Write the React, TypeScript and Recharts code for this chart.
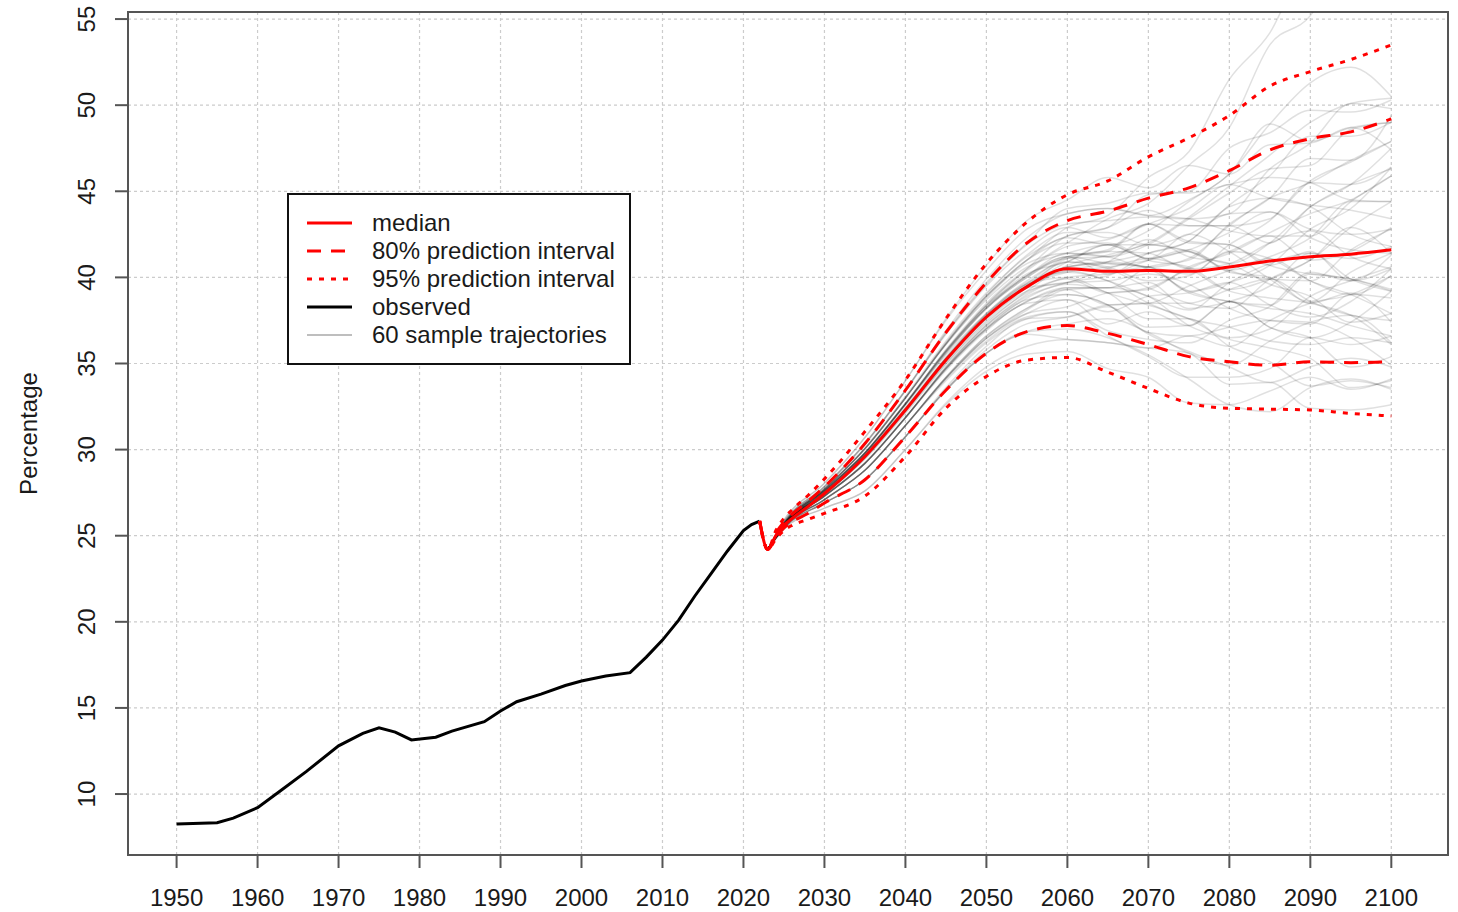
import { LineChart, Line, XAxis, YAxis, CartesianGrid, Legend, ReferenceArea } from 'recharts'

// observed series
const obsYears = [1950, 1955, 1957, 1960, 1963, 1966, 1970, 1973, 1975, 1977, 1979, 1982, 1984, 1988, 1990, 1992, 1995, 1998, 2000, 2003, 2006, 2008, 2010, 2012, 2014, 2016, 2018, 2020, 2021, 2022]
const obsValues = [8.26, 8.33, 8.6, 9.21, 10.25, 11.3, 12.8, 13.52, 13.85, 13.6, 13.14, 13.3, 13.65, 14.2, 14.82, 15.36, 15.8, 16.3, 16.56, 16.85, 17.05, 17.95, 18.94, 20.1, 21.5, 22.8, 24.1, 25.3, 25.65, 25.85]

// projection: median and prediction intervals
const projYears = [2022, 2023, 2024, 2025, 2026, 2028, 2030, 2035, 2040, 2045, 2050, 2055, 2060, 2065, 2070, 2075, 2080, 2085, 2090, 2095, 2100]
const median = [25.85, 24.2, 25.0, 25.6, 26.0, 26.7, 27.45, 29.6, 32.3, 35.2, 37.7, 39.45, 40.5, 40.35, 40.4, 40.35, 40.6, 40.95, 41.2, 41.35, 41.6]
const lower80 = [25.85, 24.2, 24.9, 25.45, 25.8, 26.3, 26.9, 28.25, 30.75, 33.45, 35.6, 36.85, 37.2, 36.75, 36.1, 35.4, 35.1, 34.9, 35.1, 35.05, 35.1]
const upper80 = [25.85, 24.2, 25.15, 25.8, 26.25, 27.0, 27.85, 30.35, 33.45, 36.8, 39.7, 42.0, 43.3, 43.85, 44.6, 45.2, 46.2, 47.4, 48.05, 48.45, 49.2]
const lower95 = [25.85, 24.2, 24.8, 25.3, 25.6, 25.95, 26.3, 27.3, 29.6, 32.4, 34.25, 35.2, 35.35, 34.5, 33.55, 32.7, 32.4, 32.35, 32.3, 32.1, 31.95]
const upper95 = [25.85, 24.2, 25.3, 26.0, 26.5, 27.35, 28.3, 31.05, 34.05, 37.6, 40.8, 43.2, 44.8, 45.6, 47.0, 48.1, 49.4, 51.1, 51.95, 52.65, 53.5]

// 60 sample trajectories, all start from the first projected year
const trajStartYear = 2023
const trajStartValue = 24.2
const trajYears = [2025, 2030, 2035, 2040, 2045, 2050, 2055, 2060, 2065, 2070, 2075, 2080, 2085, 2090, 2095, 2100]
const sampleTrajectories: number[][] = [
  [25.6, 27.45, 29.6, 32.3, 35.2, 37.7, 39.45, 40.7, 41.3, 42.0, 43.5, 45.3, 47.1, 49.0, 50.1, 50.4],
  [25.66, 27.6, 29.8, 32.65, 35.6, 38.2, 40.0, 41.2, 40.8, 40.6, 39.1, 38.6, 38.2, 37.9, 37.2, 36.6],
  [25.55, 27.3, 29.2, 31.85, 34.7, 37.05, 38.7, 39.0, 38.4, 36.7, 35.7, 34.8, 33.9, 34.8, 35.3, 34.8],
  [25.66, 27.6, 29.8, 32.65, 35.8, 38.5, 40.5, 42.0, 43.4, 44.3, 46.5, 48.7, 53.5, 55.2, 59.5, 61.2],
  [25.72, 27.7, 30.05, 33.0, 36.15, 38.9, 41.0, 42.9, 43.6, 45.8, 47.3, 51.5, 54.2, 58.8, 60.1, 61.0],
  [25.5, 27.1, 28.8, 31.4, 34.15, 36.45, 37.9, 38.3, 39.1, 39.3, 40.6, 41.4, 42.6, 43.7, 44.5, 45.9],
  [25.62, 27.5, 29.7, 32.4, 35.3, 37.8, 39.6, 40.0, 39.1, 38.4, 37.6, 36.5, 37.0, 38.9, 39.8, 40.6],
  [25.66, 27.6, 29.8, 32.7, 35.7, 38.4, 40.4, 41.8, 42.2, 43.1, 44.0, 45.4, 44.6, 44.2, 43.9, 43.4],
  [25.45, 26.9, 28.25, 30.75, 33.45, 35.6, 36.85, 37.0, 36.5, 35.5, 34.1, 32.6, 32.2, 33.6, 34.1, 33.5],
  [25.8, 27.85, 30.35, 33.45, 36.8, 39.7, 42.0, 44.0, 44.3, 44.9, 44.9, 45.4, 45.8, 45.5, 44.5, 44.4],
  [25.58, 27.4, 29.5, 32.2, 35.1, 37.6, 39.4, 40.9, 40.6, 39.8, 40.1, 41.9, 43.3, 45.6, 46.7, 47.9],
  [25.55, 27.3, 29.2, 31.85, 34.8, 37.2, 38.9, 39.7, 40.1, 41.0, 41.6, 40.3, 40.0, 38.5, 39.1, 37.4],
  [25.72, 27.7, 30.05, 33.0, 36.15, 38.9, 41.0, 42.0, 42.0, 41.0, 40.6, 39.2, 38.8, 38.5, 37.8, 36.1],
  [25.5, 27.1, 28.8, 31.4, 34.0, 36.2, 37.6, 38.0, 36.9, 36.4, 36.2, 37.5, 38.3, 40.3, 39.8, 41.3],
  [25.6, 27.5, 29.65, 32.25, 35.15, 37.65, 39.5, 40.3, 40.6, 41.0, 41.6, 42.6, 43.8, 42.8, 42.5, 42.8],
  [25.9, 28.05, 30.7, 34.0, 37.6, 40.7, 43.3, 44.5, 45.8, 45.2, 46.5, 46.0, 47.7, 47.8, 48.7, 47.4],
  [25.38, 26.6, 27.6, 30.0, 32.6, 34.55, 35.55, 35.7, 34.7, 34.2, 32.7, 32.6, 33.4, 34.2, 33.5, 34.1],
  [25.64, 27.55, 29.75, 32.6, 35.6, 38.2, 40.0, 41.2, 41.5, 43.1, 42.0, 41.9, 40.7, 41.5, 39.8, 40.5],
  [25.56, 27.3, 29.25, 31.9, 34.7, 37.0, 38.6, 39.4, 39.4, 40.6, 41.0, 43.1, 44.6, 46.9, 46.8, 49.4],
  [25.6, 27.45, 29.55, 32.35, 35.25, 37.75, 39.5, 40.9, 41.9, 41.9, 41.5, 40.4, 39.9, 39.8, 41.6, 42.8],
  [25.72, 27.7, 30.1, 33.1, 36.3, 39.1, 41.2, 42.4, 42.9, 44.8, 45.0, 47.5, 48.4, 49.7, 49.6, 50.3],
  [25.5, 27.1, 28.8, 31.4, 34.15, 36.45, 37.9, 38.7, 37.3, 38.0, 37.2, 38.6, 37.1, 36.5, 34.8, 35.4],
  [25.6, 27.4, 29.5, 32.2, 35.0, 37.5, 39.2, 39.7, 39.8, 40.2, 39.6, 38.2, 37.5, 37.3, 39.0, 38.8],
  [25.66, 27.65, 29.85, 32.7, 35.75, 38.35, 40.1, 41.4, 41.2, 40.6, 41.1, 43.0, 44.6, 45.5, 46.8, 47.9],
  [25.45, 26.9, 28.25, 30.75, 33.45, 35.6, 36.7, 36.4, 36.2, 35.9, 36.6, 36.0, 37.5, 38.5, 39.0, 40.1],
  [25.8, 27.85, 30.35, 33.45, 36.7, 39.5, 41.6, 42.9, 42.3, 43.1, 42.1, 41.9, 40.7, 40.2, 39.9, 39.2],
  [25.61, 27.47, 29.62, 32.32, 35.25, 37.72, 39.5, 40.6, 40.9, 41.4, 42.1, 44.2, 45.9, 48.2, 48.2, 49.0],
  [25.55, 27.3, 29.2, 31.85, 34.7, 37.05, 38.8, 39.6, 39.1, 37.6, 37.6, 36.0, 35.1, 33.7, 34.0, 33.6],
  [25.72, 27.7, 30.05, 33.0, 36.1, 38.7, 40.6, 41.4, 41.9, 41.1, 41.5, 40.4, 41.2, 42.3, 44.4, 44.4],
  [25.5, 27.1, 28.8, 31.4, 34.2, 36.6, 38.2, 39.4, 39.4, 39.7, 38.2, 38.6, 39.5, 41.4, 41.1, 41.8],
  [25.62, 27.5, 29.7, 32.45, 35.35, 37.9, 39.8, 40.9, 40.5, 39.4, 38.5, 38.2, 39.9, 41.0, 42.9, 44.4],
  [25.66, 27.6, 29.8, 32.6, 35.5, 37.9, 39.7, 40.3, 39.8, 38.5, 37.6, 37.1, 36.3, 36.1, 36.5, 36.2],
  [25.55, 27.3, 29.2, 31.85, 34.75, 37.2, 39.0, 40.0, 40.2, 40.6, 39.2, 39.7, 40.7, 42.8, 44.0, 46.4],
  [25.78, 27.8, 30.3, 33.4, 36.75, 39.6, 41.9, 43.1, 43.3, 43.5, 43.4, 43.7, 46.3, 47.8, 50.1, 49.8],
  [25.45, 26.9, 28.25, 30.75, 33.5, 35.8, 37.3, 37.7, 38.4, 38.5, 38.5, 39.3, 39.9, 38.6, 37.8, 37.5],
  [25.59, 27.43, 29.57, 32.27, 35.15, 37.65, 39.4, 40.4, 39.8, 38.9, 38.1, 39.7, 40.8, 41.4, 39.9, 39.2],
  [25.72, 27.7, 30.05, 33.0, 36.2, 39.0, 41.3, 42.6, 42.6, 41.9, 42.5, 43.7, 43.8, 42.3, 41.6, 41.4],
  [25.5, 27.1, 28.8, 31.4, 34.1, 36.3, 37.7, 38.0, 36.6, 35.4, 34.2, 34.2, 34.7, 36.5, 36.1, 36.6],
  [25.66, 27.6, 29.8, 32.65, 35.7, 38.25, 40.1, 41.2, 40.2, 41.4, 42.1, 44.1, 44.6, 44.1, 42.5, 41.8],
  [25.55, 27.3, 29.2, 31.85, 34.6, 36.9, 38.5, 38.7, 38.0, 38.9, 39.1, 39.7, 38.4, 37.7, 38.6, 40.5],
  [25.6, 27.45, 29.6, 32.3, 35.3, 37.85, 39.65, 41.2, 41.6, 43.1, 43.0, 43.0, 42.0, 44.1, 45.4, 46.3],
  [25.9, 28.05, 30.7, 34.0, 37.5, 40.4, 42.8, 43.7, 44.0, 43.6, 44.5, 46.0, 48.9, 47.9, 48.7, 49.0],
  [25.38, 26.6, 27.6, 30.0, 32.7, 34.8, 36.0, 36.4, 36.2, 35.9, 35.6, 33.8, 33.9, 32.4, 32.3, 32.6],
  [25.6, 27.44, 29.63, 32.35, 35.22, 37.68, 39.4, 39.7, 40.5, 41.1, 40.5, 39.3, 39.9, 41.0, 42.9, 41.4],
  [25.66, 27.6, 29.8, 32.65, 35.75, 38.4, 40.5, 42.4, 42.9, 43.9, 43.0, 43.0, 43.4, 45.5, 45.4, 46.4],
  [25.55, 27.3, 29.2, 31.85, 34.8, 37.3, 39.2, 40.6, 40.9, 40.5, 39.2, 38.6, 38.4, 40.2, 39.9, 39.3],
  [25.72, 27.7, 30.05, 33.0, 36.1, 38.8, 40.8, 41.4, 41.2, 41.9, 43.4, 44.9, 46.3, 46.5, 48.6, 49.0],
  [25.5, 27.1, 28.8, 31.4, 34.2, 36.6, 38.2, 39.0, 38.4, 36.8, 36.6, 37.1, 37.5, 37.4, 36.5, 34.9],
  [25.6, 27.46, 29.58, 32.28, 35.18, 37.7, 39.5, 40.6, 40.8, 40.6, 40.2, 41.5, 41.1, 39.8, 39.0, 40.1],
  [25.8, 27.85, 30.35, 33.45, 36.9, 39.9, 42.3, 43.7, 44.0, 43.6, 43.4, 42.7, 42.4, 42.4, 44.4, 45.9],
  [25.45, 26.9, 28.25, 30.75, 33.45, 35.6, 36.85, 37.3, 37.6, 36.8, 35.6, 34.9, 36.3, 37.4, 37.8, 36.2],
  [25.66, 27.6, 29.8, 32.65, 35.65, 38.2, 40.1, 41.1, 41.2, 41.9, 41.5, 40.8, 42.0, 44.1, 45.4, 47.5],
  [25.55, 27.3, 29.2, 31.85, 34.7, 37.0, 38.6, 39.3, 38.4, 38.5, 39.5, 40.4, 41.1, 39.8, 39.0, 37.9],
  [25.6, 27.45, 29.58, 32.25, 35.15, 37.7, 39.5, 41.1, 41.5, 41.4, 40.5, 40.8, 42.0, 42.7, 41.2, 40.5],
  [25.72, 27.7, 30.05, 33.0, 36.15, 38.9, 41.0, 42.3, 41.9, 42.7, 44.4, 46.0, 48.9, 51.3, 52.2, 50.5],
  [25.5, 27.1, 28.8, 31.4, 34.15, 36.5, 38.1, 39.3, 39.4, 38.9, 37.2, 36.4, 35.9, 35.3, 33.6, 34.0],
  [25.58, 27.38, 29.45, 32.1, 34.95, 37.4, 39.1, 39.9, 39.1, 39.4, 40.5, 41.5, 42.4, 41.0, 41.5, 42.9],
  [25.66, 27.6, 29.8, 32.65, 35.7, 38.3, 40.2, 40.9, 41.9, 41.1, 42.5, 41.5, 39.9, 38.6, 40.3, 41.4],
  [25.45, 26.9, 28.25, 30.75, 33.6, 36.0, 37.6, 37.7, 38.3, 37.1, 37.2, 38.6, 37.1, 36.5, 37.4, 39.2],
  [25.6, 27.48, 29.66, 32.38, 35.3, 37.8, 39.6, 40.4, 40.9, 42.2, 41.2, 40.8, 39.6, 38.9, 37.4, 37.9],
]

const xDomain = [1944, 2107]
const yDomain = [6.46, 55.41]
const xTicks = [1950, 1960, 1970, 1980, 1990, 2000, 2010, 2020, 2030, 2040, 2050, 2060, 2070, 2080, 2090, 2100]
const yTicks = [10, 15, 20, 25, 30, 35, 40, 45, 50, 55]

const legendItems = [
  { label: 'median', color: '#ff0000', width: 3, dash: undefined },
  { label: '80% prediction interval', color: '#ff0000', width: 3, dash: '14 10' },
  { label: '95% prediction interval', color: '#ff0000', width: 3, dash: '5 7' },
  { label: 'observed', color: '#000000', width: 3, dash: undefined },
  { label: '60 sample trajectories', color: '#bebebe', width: 2, dash: undefined },
]

// merge everything into one table keyed by year
const rowsByYear = new Map<number, Record<string, number>>()
const put = (year: number, key: string, value: number) => {
  if (!rowsByYear.has(year)) rowsByYear.set(year, { year })
  rowsByYear.get(year)![key] = value
}
obsYears.forEach((y, i) => put(y, 'observed', obsValues[i]))
projYears.forEach((y, i) => {
  put(y, 'median', median[i])
  put(y, 'lower80', lower80[i])
  put(y, 'upper80', upper80[i])
  put(y, 'lower95', lower95[i])
  put(y, 'upper95', upper95[i])
})
sampleTrajectories.forEach((traj, k) => {
  put(trajStartYear, `t${k}`, trajStartValue)
  trajYears.forEach((y, i) => put(y, `t${k}`, traj[i]))
})
const data = [...rowsByYear.values()].sort((a, b) => a.year - b.year)

const FONT = '"Liberation Sans", Arial, Helvetica, sans-serif'
const INK = '#1a1a1a'
const FRAME = '#555555'
const RED = '#ff0000'

const XTick = (props: any) => {
  const { x, y, payload } = props
  return (
    <text x={x} y={y + 38} textAnchor="middle" fontSize={24} fontFamily={FONT} fill={INK}>
      {payload.value}
    </text>
  )
}

const YTick = (props: any) => {
  const { x, y, payload } = props
  return (
    <text x={x} y={y} transform={`rotate(-90, ${x}, ${y})`} textAnchor="middle" fontSize={24} fontFamily={FONT} fill={INK}>
      {payload.value}
    </text>
  )
}

const renderLegend = () => (
  <div
    style={{
      width: 344,
      height: 172,
      boxSizing: 'border-box',
      border: '2px solid #111',
      background: '#fff',
      paddingTop: 14,
      fontFamily: FONT,
      fontSize: 24,
      color: INK,
    }}
  >
    {legendItems.map((item) => (
      <div key={item.label} style={{ display: 'flex', alignItems: 'center', height: 28, whiteSpace: 'nowrap' }}>
        <svg width={45} height={10} style={{ marginLeft: 18, marginRight: 20, flexShrink: 0 }}>
          <line x1={0} y1={5} x2={45} y2={5} stroke={item.color} strokeWidth={item.width} strokeDasharray={item.dash} />
        </svg>
        <span>{item.label}</span>
      </div>
    ))}
  </div>
)

export default function App() {
  return (
    <div style={{ position: 'absolute', left: 0, top: 0, background: '#fff' }}>
      <LineChart width={1458} height={912} data={data} margin={{ top: 12, right: 10, left: 0, bottom: 0 }}>
        <CartesianGrid stroke="#cccccc" strokeDasharray="3 3" strokeWidth={1.2} />
        <XAxis
          dataKey="year"
          type="number"
          domain={xDomain}
          ticks={xTicks}
          interval={0}
          height={57}
          tickSize={13}
          tickMargin={0}
          tick={XTick}
          axisLine={{ stroke: FRAME, strokeWidth: 2 }}
          tickLine={{ stroke: FRAME, strokeWidth: 2 }}
          allowDataOverflow
        />
        <YAxis
          type="number"
          domain={yDomain}
          ticks={yTicks}
          interval={0}
          width={128}
          tickSize={13}
          tickMargin={20}
          tick={YTick}
          axisLine={{ stroke: FRAME, strokeWidth: 2 }}
          tickLine={{ stroke: FRAME, strokeWidth: 2 }}
          allowDataOverflow
          label={{
            content: (props: any) => {
              const vb = props.viewBox || { x: 0, y: 12, width: 128, height: 843 }
              const lx = vb.x + 37
              const ly = vb.y + vb.height / 2
              return (
                <text x={lx} y={ly} transform={`rotate(-90, ${lx}, ${ly})`} textAnchor="middle" fontSize={24} fontFamily={FONT} fill={INK}>
                  Percentage
                </text>
              )
            },
          }}
        />
        {/* plot frame */}
        <ReferenceArea
          x1={xDomain[0]}
          x2={xDomain[1]}
          y1={yDomain[0]}
          y2={yDomain[1]}
          ifOverflow="visible"
          fill="none"
          fillOpacity={0}
          stroke={FRAME}
          strokeWidth={2}
        />
        <Legend content={renderLegend} wrapperStyle={{ left: 287, top: 193, width: 0, height: 0, overflow: 'visible' }} />

        {sampleTrajectories.map((_, k) => (
          <Line
            key={`t${k}`}
            dataKey={`t${k}`}
            type="monotone"
            stroke="#000000"
            strokeOpacity={0.12}
            strokeWidth={1.5}
            dot={false}
            activeDot={false}
            connectNulls
            isAnimationActive={false}
            legendType="none"
          />
        ))}
        <Line dataKey="observed" type="linear" stroke="#000000" strokeWidth={3} dot={false} activeDot={false} connectNulls isAnimationActive={false} />
        <Line dataKey="lower95" type="monotone" stroke={RED} strokeWidth={3} strokeDasharray="5 7" dot={false} activeDot={false} connectNulls isAnimationActive={false} />
        <Line dataKey="upper95" type="monotone" stroke={RED} strokeWidth={3} strokeDasharray="5 7" dot={false} activeDot={false} connectNulls isAnimationActive={false} />
        <Line dataKey="lower80" type="monotone" stroke={RED} strokeWidth={3} strokeDasharray="14 10" dot={false} activeDot={false} connectNulls isAnimationActive={false} />
        <Line dataKey="upper80" type="monotone" stroke={RED} strokeWidth={3} strokeDasharray="14 10" dot={false} activeDot={false} connectNulls isAnimationActive={false} />
        <Line dataKey="median" type="monotone" stroke={RED} strokeWidth={3} dot={false} activeDot={false} connectNulls isAnimationActive={false} />
      </LineChart>
    </div>
  )
}
